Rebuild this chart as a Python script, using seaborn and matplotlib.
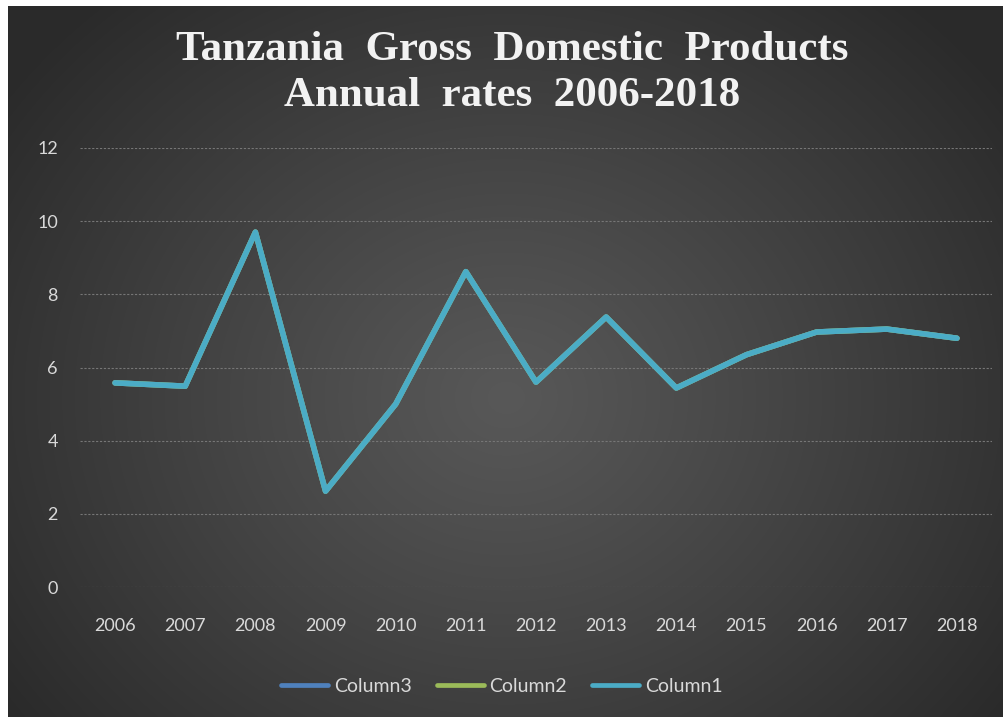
import numpy as np
import pandas as pd
import matplotlib
matplotlib.use("Agg")
import matplotlib.pyplot as plt
import seaborn as sns

# Tanzania GDP annual growth rates (%)
years = ["2006", "2007", "2008", "2009", "2010", "2011", "2012",
         "2013", "2014", "2015", "2016", "2017", "2018"]
column1 = [5.58, 5.49, 9.7, 2.62, 5.0, 8.62, 5.6, 7.38, 5.44, 6.35, 6.97, 7.05, 6.8]
column2 = list(column1)
column3 = list(column1)

series_names = ["Column3", "Column2", "Column1"]
series_colors = ["#4F81BD", "#9BBB59", "#4BACC6"]

df = pd.concat([
    pd.DataFrame({"Year": years, "Rate": column3, "Series": "Column3"}),
    pd.DataFrame({"Year": years, "Rate": column2, "Series": "Column2"}),
    pd.DataFrame({"Year": years, "Rate": column1, "Series": "Column1"}),
], ignore_index=True)

sns.set_theme(style="dark")
plt.rcParams["font.family"] = ["Lato", "DejaVu Sans"]

W, H = 1005, 717
fig = plt.figure(figsize=(W / 100, H / 100), dpi=100, facecolor="white")

# Dark radial-gradient panel behind the chart
bg = fig.add_axes([8 / W, 0, (1002 - 8) / W, (717 - 6) / H])
bg.set_axis_off()
ny, nx = 400, 560
yy, xx = np.mgrid[0:ny, 0:nx]
cx, cy = nx * 0.5, ny * 0.55
d = np.sqrt(((xx - cx) / (nx * 0.62)) ** 2 + ((yy - cy) / (ny * 0.75)) ** 2)
d = np.clip(d, 0, 1)
shade = 0.345 - (0.345 - 0.165) * d ** 1.1
bg.imshow(np.dstack([shade, shade, shade]), aspect="auto", extent=[0, 1, 0, 1],
          interpolation="bilinear")
bg.set_xlim(0, 1)
bg.set_ylim(0, 1)

ax = fig.add_axes([80 / W, (717 - 587) / H, (992 - 80) / W, (587 - 148) / H])
ax.set_facecolor("none")

sns.lineplot(data=df, x="Year", y="Rate", hue="Series", hue_order=series_names,
             palette=dict(zip(series_names, series_colors)), linewidth=4.0,
             sort=False, ax=ax, legend=True)

ax.set_xlim(-0.5, len(years) - 0.5)
ax.set_ylim(0, 12)
ax.set_yticks(np.arange(0, 13, 2))
ax.grid(axis="y", color="#767676", linestyle=(0, (2, 1.5)), linewidth=0.8)
ax.grid(axis="x", visible=False)
ax.set_axisbelow(True)
for s in ax.spines.values():
    s.set_visible(False)
ax.set_xlabel("")
ax.set_ylabel("")
ax.tick_params(axis="both", length=0, labelsize=13, colors="#d9d9d9")
ax.tick_params(axis="x", pad=22)
ax.tick_params(axis="y", pad=16)

leg = ax.legend(loc="center", bbox_to_anchor=((502 - 80) / 912, (717 - 686 - 130) / (587 - 148)),
                ncol=3, frameon=False, fontsize=14, handlelength=2.4,
                columnspacing=1.3, handletextpad=0.3)
for t in leg.get_texts():
    t.set_color("#d9d9d9")
for h in leg.legend_handles:
    h.set_linewidth(3.4)

fig.text(512 / W, (717 - 73) / H,
         "Tanzania  Gross  Domestic  Products\nAnnual  rates  2006-2018",
         ha="center", va="center", color="#f2f2f2", fontsize=31,
         fontweight="bold", family=["Liberation Serif", "DejaVu Serif"],
         linespacing=1.3)

fig.savefig("out.png", dpi=100, facecolor="white")
